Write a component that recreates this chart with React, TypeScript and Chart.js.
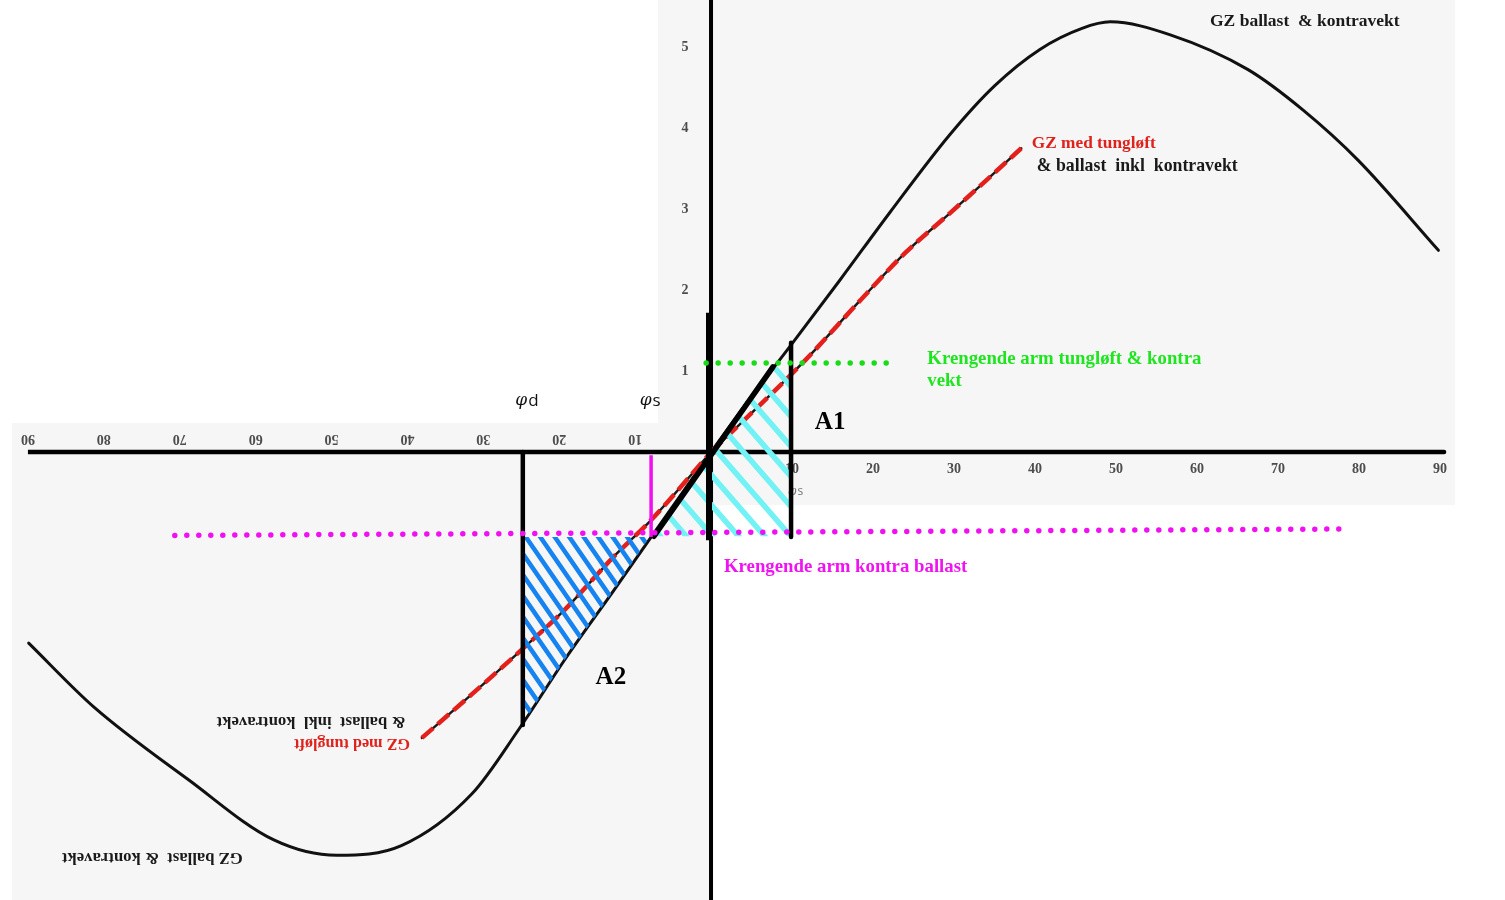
import { useEffect, useRef } from "react";
import { Chart, registerables } from "chart.js";

Chart.register(...registerables);

const W = 1505;
const H = 900;

// Heel angle scales (deg): starboard half on "x", mirrored port half on "xL"
const xRightRange = [-87.78, 98.02];
const xLeftRange = [-93.68, 104.6];
// Righting / heeling arm scale
const yRange = [-5.531, 5.58];

// GZ ballast & kontravekt
const gzRightDeg = [0, 4, 10.1, 15.9, 22.1, 29.5, 35, 40.6, 45.8, 49.3, 56.7, 66.3, 73.1, 79.9, 89.8];
const gzRightArm = [0, 0.55, 1.35, 2.12, 2.96, 3.92, 4.52, 4.97, 5.23, 5.31, 5.15, 4.72, 4.22, 3.6, 2.49];
const gzLeftDeg = [-89.9, -81.3, -68.8, -57.6, -49.3, -40.8, -31.5, -25.3, -19.1, -12.9, -7.9, 0];
const gzLeftArm = [-2.36, -3.15, -4.05, -4.79, -4.98, -4.86, -4.22, -3.42, -2.54, -1.72, -1.05, 0];

// GZ med tungløft & ballast inkl kontravekt
const gzLiftRightDeg = [0, 11.7, 18.5, 24.0, 29.4, 33.5, 38.3];
const gzLiftRightArm = [0, 1.14, 1.88, 2.46, 2.94, 3.31, 3.75];
const gzLiftLeftDeg = [-38.1, -31.5, -25.3, -19.1, -12.9, -7.9, 0];
const gzLiftLeftArm = [-3.53, -2.99, -2.47, -1.93, -1.3, -0.84, 0];

// Krengende arm tungløft & kontravekt
const heelLiftDeg = [-0.6, 23.0];
const heelLiftArm = [1.1, 1.1];
// Krengende arm kontra ballast
const heelBallastDeg = [-66.2, 78.9];
const heelBallastArm = [-1.03, -0.95];

// Initial slope line through the origin
const tangentDeg = [-7.04, 7.65];
const tangentArm = [-1.04, 1.05];

// Angle markers
const phiDDeg = [-24.8, -24.8];
const phiDArm = [0, -3.37];
const phiSDeg = [-7.9, -7.9];
const phiSArm = [-0.04, -1.05];
const phiEqDeg = [9.88, 9.88];
const phiEqArm = [1.35, -1.05];
const axisBoldDeg = [-0.25, -0.25];
const axisBoldArm = [1.72, -1.09];

// Axes
const xAxisLeftDeg = [-90, 0];
const xAxisRightDeg = [0, 90.5];
const xAxisArm = [0, 0];
const yAxisDeg = [0, 0];
const yAxisArm = [5.58, -5.531];

// Hatched areas A1 (starboard scale) and A2 (port scale)
const areaA1Deg = [-7.04, 7.65, 9.88, 9.88];
const areaA1Arm = [-1.04, 1.05, 1.05, -1.04];
const areaA2Deg = [-24.8, -8.1, -12.9, -19.1, -24.8];
const areaA2Arm = [-1.05, -1.05, -1.72, -2.54, -3.35];

// Tick labels
const xTicksRight = [10, 20, 30, 40, 50, 60, 70, 80, 90];
const xTicksLeft = [-10, -20, -30, -40, -50, -60, -70, -80, -90];
const yTicks = [1, 2, 3, 4, 5];

// Scanned sheet backgrounds
const sheetRight = { deg: [-6.54, 91.85], arm: [5.58, -0.654] };
const sheetLeft = { deg: [-92.1, 0], arm: [0.358, -5.531] };

const SERIF = '"Liberation Serif", "Times New Roman", serif';
const SANS = '"Open Sans", "DejaVu Sans", sans-serif';

const pts = (xs: number[], ys: number[]) => xs.map((x, i) => ({ x, y: ys[i] }));

function line(
  label: string,
  xs: number[],
  ys: number[],
  axis: string,
  color: string,
  width: number,
  order: number,
  extra: Record<string, unknown> = {}
) {
  return {
    label,
    data: pts(xs, ys),
    xAxisID: axis,
    yAxisID: "y",
    borderColor: color,
    backgroundColor: color,
    borderWidth: width,
    pointRadius: 0,
    pointHoverRadius: 0,
    fill: false,
    order,
    borderCapStyle: "round",
    ...extra,
  };
}

type Hatch = {
  axis: string;
  xs: number[];
  ys: number[];
  anchor: [number, number];
  slope: number;
  gap: number;
  width: number;
  color: string;
};

const hatches: Hatch[] = [
  { axis: "x", xs: areaA1Deg, ys: areaA1Arm, anchor: [-2.96, -1.05], slope: 1.15, gap: 30, width: 5.5, color: "#72f2f4" },
  { axis: "xL", xs: areaA2Deg, ys: areaA2Arm, anchor: [-24.4, -1.05], slope: 1.45, gap: 21, width: 4.5, color: "#1583f0" },
];

function drawHatch(chart: any, h: Hatch) {
  const ctx: CanvasRenderingContext2D = chart.ctx;
  const sx = chart.scales[h.axis];
  const sy = chart.scales.y;
  const px = h.xs.map((v) => sx.getPixelForValue(v));
  const py = h.ys.map((v) => sy.getPixelForValue(v));
  ctx.save();
  ctx.beginPath();
  px.forEach((x, i) => (i ? ctx.lineTo(x, py[i]) : ctx.moveTo(x, py[i])));
  ctx.closePath();
  ctx.clip();
  const ax = sx.getPixelForValue(h.anchor[0]);
  const ay = sy.getPixelForValue(h.anchor[1]);
  const c0 = ay - h.slope * ax;
  const cs = px.map((x, i) => py[i] - h.slope * x);
  const kStart = Math.ceil((Math.min(...cs) - c0) / h.gap);
  const kEnd = Math.floor((Math.max(...cs) - c0) / h.gap);
  const minX = Math.min(...px) - 10;
  const maxX = Math.max(...px) + 10;
  ctx.strokeStyle = h.color;
  ctx.lineWidth = h.width;
  ctx.lineCap = "round";
  for (let k = kStart; k <= kEnd; k++) {
    const c = c0 + k * h.gap;
    ctx.beginPath();
    ctx.moveTo(minX, h.slope * minX + c);
    ctx.lineTo(maxX, h.slope * maxX + c);
    ctx.stroke();
  }
  ctx.restore();
}

type Note = {
  text: string;
  axis: string;
  x: number;
  y: number;
  font: string;
  color: string;
  align: CanvasTextAlign;
  flip?: boolean;
};

const notes: Note[] = [
  { text: "GZ ballast  & kontravekt", axis: "x", x: 61.6, y: 5.32, font: `bold 17.5px ${SERIF}`, color: "#1a1a1a", align: "left" },
  { text: "GZ med tungløft", axis: "x", x: 39.6, y: 3.81, font: `bold 17.3px ${SERIF}`, color: "#e0221c", align: "left" },
  { text: "& ballast  inkl  kontravekt", axis: "x", x: 40.2, y: 3.53, font: `bold 17.8px ${SERIF}`, color: "#1a1a1a", align: "left" },
  { text: "Krengende arm tungløft & kontra", axis: "x", x: 26.7, y: 1.15, font: `bold 18.8px ${SERIF}`, color: "#1ee61e", align: "left" },
  { text: "vekt", axis: "x", x: 26.7, y: 0.88, font: `bold 18.8px ${SERIF}`, color: "#1ee61e", align: "left" },
  { text: "Krengende arm kontra ballast", axis: "x", x: 1.6, y: -1.42, font: `bold 18.8px ${SERIF}`, color: "#f012f0", align: "left" },
  { text: "A1", axis: "x", x: 14.7, y: 0.36, font: `bold 25px ${SERIF}`, color: "#000", align: "center" },
  { text: "A2", axis: "xL", x: -13.2, y: -2.79, font: `bold 25px ${SERIF}`, color: "#000", align: "center" },
  { text: "GZ ballast  & kontravekt", axis: "xL", x: -73.6, y: -5.01, font: `bold 16.7px ${SERIF}`, color: "#1a1a1a", align: "center", flip: true },
  { text: "GZ med tungløft", axis: "xL", x: -47.3, y: -3.6, font: `bold 16.2px ${SERIF}`, color: "#e0221c", align: "center", flip: true },
  { text: "& ballast  inkl  kontravekt", axis: "xL", x: -52.7, y: -3.32, font: `bold 16.7px ${SERIF}`, color: "#1a1a1a", align: "center", flip: true },
];

// Angle symbols: Greek phi followed by a letter
type PhiLabel = { sub: string; axis: string; x: number; y: number; size: number; color: string };
const phiLabels: PhiLabel[] = [
  { sub: "d", axis: "xL", x: -25.8, y: 0.63, size: 17, color: "#111" },
  { sub: "s", axis: "xL", x: -9.4, y: 0.63, size: 17, color: "#111" },
  { sub: "s", axis: "x", x: 9.5, y: -0.49, size: 12, color: "#777" },
];

function drawText(
  ctx: CanvasRenderingContext2D,
  text: string,
  x: number,
  y: number,
  font: string,
  color: string,
  align: CanvasTextAlign,
  flip = false
) {
  ctx.save();
  ctx.font = font;
  ctx.fillStyle = color;
  ctx.textBaseline = "middle";
  ctx.translate(x, y);
  if (flip) ctx.rotate(Math.PI);
  ctx.textAlign = align;
  ctx.fillText(text, 0, 0);
  ctx.restore();
}

function drawPhi(ctx: CanvasRenderingContext2D, p: PhiLabel, x: number, y: number) {
  ctx.save();
  ctx.fillStyle = p.color;
  ctx.textBaseline = "middle";
  ctx.textAlign = "left";
  ctx.font = `italic ${p.size}px "DejaVu Serif", serif`;
  ctx.fillText("φ", x, y);
  const w = ctx.measureText("φ").width;
  ctx.font = `${p.size}px ${SANS}`;
  ctx.fillText(p.sub, x + w + 1, y);
  ctx.restore();
}

const sheetPlugin = {
  id: "sheet",
  beforeDraw(chart: any) {
    const ctx: CanvasRenderingContext2D = chart.ctx;
    const sy = chart.scales.y;
    ctx.save();
    ctx.fillStyle = "#ffffff";
    ctx.fillRect(0, 0, chart.width, chart.height);
    ctx.fillStyle = "#f6f6f6";
    const panels: [string, { deg: number[]; arm: number[] }][] = [
      ["x", sheetRight],
      ["xL", sheetLeft],
    ];
    for (const [axis, p] of panels) {
      const sx = chart.scales[axis];
      const x0 = sx.getPixelForValue(p.deg[0]);
      const x1 = sx.getPixelForValue(p.deg[1]);
      const y0 = sy.getPixelForValue(p.arm[0]);
      const y1 = sy.getPixelForValue(p.arm[1]);
      ctx.fillRect(x0, y0, x1 - x0, y1 - y0);
    }
    ctx.restore();
  },
  beforeDatasetsDraw(chart: any) {
    const ctx: CanvasRenderingContext2D = chart.ctx;
    const sx = chart.scales.x;
    const sxl = chart.scales.xL;
    const sy = chart.scales.y;
    const tickFont = `bold 14px ${SERIF}`;
    const tickColor = "#4d4d4d";
    for (const t of xTicksRight) {
      drawText(ctx, String(t), sx.getPixelForValue(t), sy.getPixelForValue(-0.22), tickFont, tickColor, "center");
    }
    for (const t of xTicksLeft) {
      drawText(ctx, String(-t), sxl.getPixelForValue(t), sy.getPixelForValue(0.17), tickFont, tickColor, "center", true);
    }
    for (const t of yTicks) {
      drawText(ctx, String(t), sx.getPixelForValue(-3.2), sy.getPixelForValue(t), tickFont, tickColor, "center");
    }
    const small = phiLabels[2];
    drawPhi(ctx, small, chart.scales[small.axis].getPixelForValue(small.x), sy.getPixelForValue(small.y));
  },
  beforeDatasetDraw(chart: any, args: any) {
    const ds = chart.data.datasets[args.index];
    if (ds.label !== "Tangent") return;
    for (const h of hatches) drawHatch(chart, h);
  },
  afterDatasetsDraw(chart: any) {
    const ctx: CanvasRenderingContext2D = chart.ctx;
    const sy = chart.scales.y;
    for (const n of notes) {
      const sx = chart.scales[n.axis];
      drawText(ctx, n.text, sx.getPixelForValue(n.x), sy.getPixelForValue(n.y), n.font, n.color, n.align, n.flip);
    }
    for (const p of phiLabels.slice(0, 2)) {
      drawPhi(ctx, p, chart.scales[p.axis].getPixelForValue(p.x), sy.getPixelForValue(p.y));
    }
  },
};

export default function App() {
  const ref = useRef<HTMLCanvasElement | null>(null);

  useEffect(() => {
    if (!ref.current) return;
    const red = "#e3201b";
    const datasets: any[] = [
      line("x-axis port", xAxisLeftDeg, xAxisArm, "xL", "#000", 4.5, 30, { borderCapStyle: "butt" }),
      line("x-axis starboard", xAxisRightDeg, xAxisArm, "x", "#000", 4.5, 29),
      line("y-axis", yAxisDeg, yAxisArm, "x", "#000", 4, 28, { borderCapStyle: "butt" }),
      line("GZ starboard", gzRightDeg, gzRightArm, "x", "#111", 3, 27, { cubicInterpolationMode: "monotone" }),
      line("GZ port", gzLeftDeg, gzLeftArm, "xL", "#111", 3, 26, { cubicInterpolationMode: "monotone" }),
      line("GZ lift starboard base", gzLiftRightDeg, gzLiftRightArm, "x", "#1a1a1a", 2.5, 25, { cubicInterpolationMode: "monotone" }),
      line("GZ lift port base", gzLiftLeftDeg, gzLiftLeftArm, "xL", "#1a1a1a", 2.5, 24, { cubicInterpolationMode: "monotone" }),
      line("GZ lift starboard", gzLiftRightDeg, gzLiftRightArm, "x", red, 4.5, 23, {
        cubicInterpolationMode: "monotone",
        borderDash: [15, 6],
        borderCapStyle: "butt",
      }),
      line("GZ lift port", gzLiftLeftDeg, gzLiftLeftArm, "xL", red, 4.5, 22, {
        cubicInterpolationMode: "monotone",
        borderDash: [15, 6],
        borderCapStyle: "butt",
      }),
      line("Tangent", tangentDeg, tangentArm, "x", "#000", 5.5, 21),
      line("phi d", phiDDeg, phiDArm, "xL", "#000", 4.5, 20),
      line("phi eq", phiEqDeg, phiEqArm, "x", "#000", 4.5, 19),
      line("y-axis bold", axisBoldDeg, axisBoldArm, "x", "#000", 6, 18, { borderCapStyle: "butt" }),
      line("phi s", phiSDeg, phiSArm, "xL", "#f010f0", 3.5, 17, { borderCapStyle: "butt" }),
      line("Krengende arm kontra ballast", heelBallastDeg, heelBallastArm, "x", "#f010f0", 5.5, 16, {
        borderDash: [0, 12],
      }),
      line("Krengende arm tungløft & kontravekt", heelLiftDeg, heelLiftArm, "x", "#19dc19", 5.5, 15, {
        borderDash: [0, 12],
      }),
    ];

    const chart = new Chart(ref.current, {
      type: "line",
      data: { datasets },
      options: {
        animation: false,
        responsive: false,
        devicePixelRatio: 1,
        events: [],
        layout: { padding: 0 },
        plugins: { legend: { display: false }, tooltip: { enabled: false } },
        scales: {
          x: { type: "linear", min: xRightRange[0], max: xRightRange[1], display: false },
          xL: { type: "linear", axis: "x", position: "bottom", min: xLeftRange[0], max: xLeftRange[1], display: false },
          y: { type: "linear", min: yRange[0], max: yRange[1], display: false },
        },
      } as any,
      plugins: [sheetPlugin as any],
    });
    return () => chart.destroy();
  }, []);

  return (
    <div style={{ position: "fixed", left: 0, top: 0, width: W, height: H, background: "#fff" }}>
      <canvas ref={ref} width={W} height={H} style={{ display: "block", width: W, height: H }} />
    </div>
  );
}
